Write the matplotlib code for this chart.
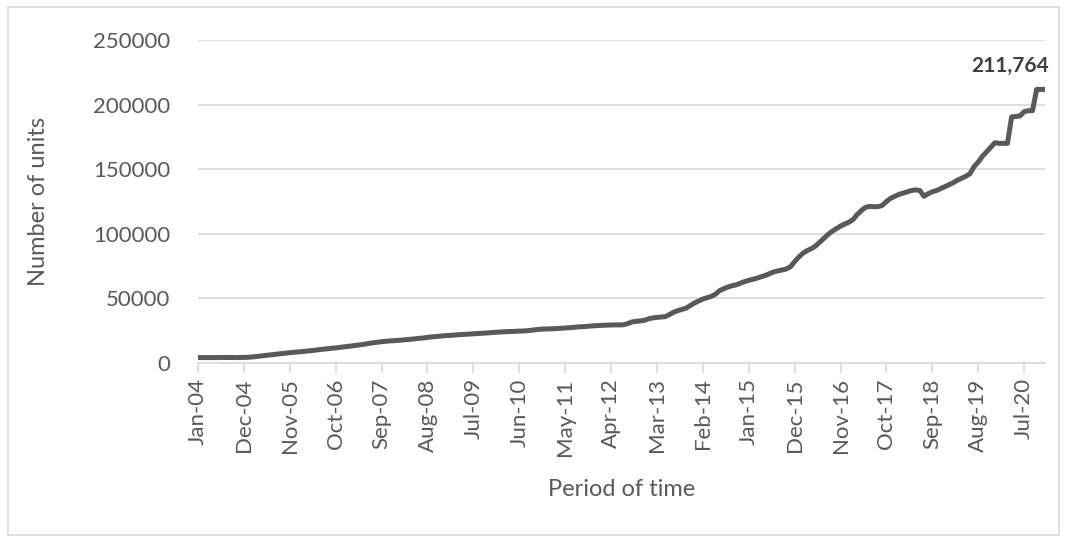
import matplotlib.pyplot as plt
from matplotlib.patches import Rectangle

# monthly values, Jan-04 .. Dec-20
units_2004 = [4200, 4200, 4150, 4200, 4250, 4200, 4300, 4250, 4300, 4200, 4250, 4300]
units_2005 = [4400, 4700, 5000, 5400, 5800, 6200, 6500, 6900, 7300, 7600, 8000, 8300]
units_2006 = [8600, 8900, 9200, 9500, 9900, 10300, 10700, 11000, 11400, 11700, 12100, 12500]
units_2007 = [12900, 13300, 13700, 14100, 14600, 15200, 15700, 16100, 16500, 16800, 17100, 17300]
units_2008 = [17500, 17800, 18100, 18400, 18700, 19100, 19400, 19800, 20200, 20500, 20800, 21100]
units_2009 = [21300, 21500, 21800, 22000, 22200, 22400, 22600, 22800, 23000, 23200, 23400, 23700]
units_2010 = [23900, 24100, 24300, 24400, 24500, 24700, 24800, 25000, 25400, 25800, 26100, 26300]
units_2011 = [26400, 26500, 26700, 26900, 27100, 27300, 27600, 27900, 28100, 28300, 28600, 28800]
units_2012 = [29000, 29200, 29300, 29400, 29500, 29500, 29600, 30500, 31800, 32200, 32600, 33000]
units_2013 = [34200, 34900, 35300, 35600, 35900, 37500, 39300, 40500, 41500, 42500, 44500, 46500]
units_2014 = [48000, 49500, 50500, 51500, 53200, 56000, 57500, 58800, 59800, 60500, 61800, 63000]
units_2015 = [64000, 64800, 65700, 66800, 67800, 69200, 70500, 71300, 72000, 72800, 74500, 78500]
units_2016 = [82000, 85000, 87000, 88500, 90500, 93500, 96500, 99500, 102000, 104000, 106000, 107500]
units_2017 = [109000, 111000, 115000, 118000, 120500, 121200, 121000, 121000, 122000, 125000, 127500, 129000]
units_2018 = [130500, 131500, 132500, 133500, 134000, 133500, 129000, 131000, 132500, 133500, 135000, 136500]
units_2019 = [138000, 139500, 141500, 143000, 144500, 146500, 152000, 155500, 160000, 163500, 167000, 170500]
units_2020 = [170000, 170000, 170000, 190500, 190800, 191200, 194500, 195300, 195300, 211764, 211764, 211764]

units = (units_2004 + units_2005 + units_2006 + units_2007 + units_2008 + units_2009
         + units_2010 + units_2011 + units_2012 + units_2013 + units_2014 + units_2015
         + units_2016 + units_2017 + units_2018 + units_2019 + units_2020)

tick_labels = ['Jan-04', 'Dec-04', 'Nov-05', 'Oct-06', 'Sep-07', 'Aug-08', 'Jul-09',
               'Jun-10', 'May-11', 'Apr-12', 'Mar-13', 'Feb-14', 'Jan-15', 'Dec-15',
               'Nov-16', 'Oct-17', 'Sep-18', 'Aug-19', 'Jul-20']
y_ticks = [0, 50000, 100000, 150000, 200000, 250000]

plt.rcParams['font.family'] = ['Lato', 'DejaVu Sans']
txt = '#595959'
grid = '#d9d9d9'

fig = plt.figure(figsize=(10.67, 5.40), dpi=100)
fig.patches.append(Rectangle((8 / 1067, 5 / 540), 1051 / 1067, 528 / 540,
                             transform=fig.transFigure, fill=False,
                             edgecolor=grid, linewidth=1.2))
ax = fig.add_axes([198 / 1067, 1 - 363 / 540, 847 / 1067, 323 / 540])

x = list(range(len(units)))
ax.plot(x, units, color='#595959', linewidth=3.6, solid_capstyle='round',
        solid_joinstyle='round', zorder=3)

ax.set_xlim(0, len(units) - 1)
ax.set_ylim(0, 250000)
ax.set_yticks(y_ticks)
ax.set_yticklabels([str(v) for v in y_ticks])
ax.set_xticks(range(0, len(units), 11))
ax.set_xticklabels(tick_labels, rotation=90)

ax.grid(axis='y', color=grid, linewidth=1.2)
ax.set_axisbelow(True)
for s in ['top', 'right', 'left']:
    ax.spines[s].set_visible(False)
ax.spines['bottom'].set_color(grid)
ax.spines['bottom'].set_linewidth(1.2)

ax.tick_params(axis='y', length=0, pad=20, labelsize=16, labelcolor=txt)
ax.tick_params(axis='x', length=7, width=1.2, color=grid, pad=4,
               labelsize=16, labelcolor=txt)

ax.set_ylabel('Number of units', fontsize=17, color=txt)
ax.yaxis.set_label_coords(-0.176, 0.5)
ax.set_xlabel('Period of time', fontsize=17, color=txt)
ax.xaxis.set_label_coords(0.5, -0.36)

ax.annotate('211,764', xy=(x[-1], units[-1]), xytext=(3, 10),
            textcoords='offset points', ha='right', va='bottom',
            fontsize=15, fontweight='bold', color='#404040')

fig.savefig('out.png', dpi=100)
